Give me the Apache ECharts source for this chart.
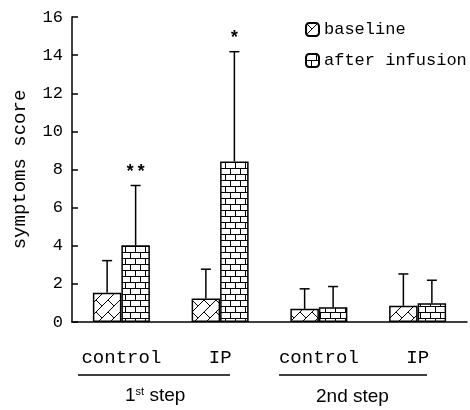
<!DOCTYPE html>
<html>
<head>
<meta charset="utf-8">
<script src="https://cdn.jsdelivr.net/npm/echarts@6/dist/echarts.min.js"></script>
<style>
  html, body { margin: 0; padding: 0; background: #fff; }
  #main { width: 470px; height: 410px; }
</style>
</head>
<body>
<div id="main"></div>
<script>
// data
var categories = ['control', 'IP', 'control', 'IP'];
var baselineMean = [1.53, 1.23, 0.69, 0.85];
var baselineSD = [1.69, 1.54, 1.05, 1.67];
var afterMean = [4.02, 8.42, 0.78, 0.98];
var afterSD = [3.14, 5.76, 1.08, 1.21];
var stars = ['**', '*', '', ''];
var yTicks = [0, 2, 4, 6, 8, 10, 12, 14, 16];

var MONO = '"Liberation Mono", "DejaVu Sans Mono", monospace';
var SANS = '"Liberation Sans", Arial, sans-serif';
var BAR_W = 28.5;

// hatch pattern for baseline
function makeHatch() {
    var c = document.createElement('canvas');
    c.width = 12; c.height = 12;
    var ctx = c.getContext('2d');
    ctx.fillStyle = '#fff';
    ctx.fillRect(0, 0, 12, 12);
    ctx.strokeStyle = '#000';
    ctx.lineWidth = 1;
    ctx.beginPath();
    ctx.moveTo(0, 12); ctx.lineTo(12, 0);
    ctx.moveTo(0, 0); ctx.lineTo(6, 6);
    ctx.stroke();
    return c;
}

// brick pattern for after infusion
function makeBrick() {
    var c = document.createElement('canvas');
    c.width = 10; c.height = 12;
    var ctx = c.getContext('2d');
    ctx.fillStyle = '#fff';
    ctx.fillRect(0, 0, 10, 12);
    ctx.strokeStyle = '#000';
    ctx.lineWidth = 1;
    ctx.beginPath();
    ctx.moveTo(0, 0.5); ctx.lineTo(10, 0.5);
    ctx.moveTo(0, 6.5); ctx.lineTo(10, 6.5);
    ctx.moveTo(0.5, 0); ctx.lineTo(0.5, 6);
    ctx.moveTo(5.5, 6); ctx.lineTo(5.5, 12);
    ctx.stroke();
    return c;
}

function errorData(mean, sd) {
    return mean.map(function (m, i) { return [i, m, sd[i]]; });
}

function errorRender(offset, withStars) {
    return function (params, api) {
        var i = api.value(0);
        var top = api.coord([i, api.value(1) + api.value(2)]);
        var base = api.coord([i, api.value(1)]);
        var x = top[0] + offset;
        var children = [
            { type: 'line', shape: { x1: x, y1: base[1], x2: x, y2: top[1] },
              style: { stroke: '#000', lineWidth: 1.5 } },
            { type: 'line', shape: { x1: x - 5, y1: top[1], x2: x + 5, y2: top[1] },
              style: { stroke: '#000', lineWidth: 1.5 } }
        ];
        if (withStars && stars[i]) {
            children.push({
                type: 'text',
                style: { x: x, y: top[1] - 13, text: stars[i], fill: '#000',
                         font: 'bold 18px ' + MONO, align: 'center', verticalAlign: 'middle' }
            });
        }
        return { type: 'group', children: children };
    };
}

var chart = echarts.init(document.getElementById('main'));

var option = {
    animation: false,
    backgroundColor: '#fff',
    grid: { left: 72, right: 3, top: 17, bottom: 88, containLabel: false, outerBoundsMode: 'none' },
    legend: {
        orient: 'vertical',
        left: 300,
        top: 16,
        itemWidth: 13,
        itemHeight: 13,
        itemGap: 14,
        data: ['baseline', 'after infusion'],
        textStyle: { fontFamily: MONO, fontSize: 17, color: '#000' }
    },
    xAxis: {
        type: 'category',
        data: categories,
        axisLine: { lineStyle: { color: '#000', width: 1.5 } },
        axisTick: { inside: true, length: 5, lineStyle: { color: '#000', width: 1.5 } },
        axisLabel: { interval: 0, margin: 26, fontFamily: MONO, fontSize: 19, color: '#000' }
    },
    yAxis: {
        type: 'value',
        min: yTicks[0],
        max: yTicks[yTicks.length - 1],
        interval: 2,
        name: 'symptoms score',
        nameLocation: 'middle',
        nameGap: 43,
        nameTextStyle: { fontFamily: MONO, fontSize: 19, color: '#000' },
        splitLine: { show: false },
        axisLine: { show: true, lineStyle: { color: '#000', width: 1.5 } },
        axisTick: { show: true, inside: true, length: 6, lineStyle: { color: '#000', width: 1.5 } },
        axisLabel: { margin: 9, fontFamily: MONO, fontSize: 17, color: '#000' }
    },
    series: [{
        name: 'baseline',
        type: 'bar',
        barWidth: BAR_W,
        barGap: '0%',
        data: baselineMean,
        itemStyle: { color: { image: makeHatch(), repeat: 'repeat' }, borderColor: '#000', borderWidth: 1.5 }
    }, {
        name: 'after infusion',
        type: 'bar',
        barWidth: BAR_W,
        barGap: '0%',
        data: afterMean,
        itemStyle: { color: { image: makeBrick(), repeat: 'repeat' }, borderColor: '#000', borderWidth: 1.5 }
    }, {
        type: 'custom',
        data: errorData(baselineMean, baselineSD),
        renderItem: errorRender(-BAR_W / 2, false),
        z: 5
    }, {
        type: 'custom',
        data: errorData(afterMean, afterSD),
        renderItem: errorRender(BAR_W / 2, true),
        z: 5
    }],
    graphic: [
        { type: 'line', shape: { x1: 78, y1: 375, x2: 230, y2: 375 }, style: { stroke: '#000', lineWidth: 1.5 } },
        { type: 'line', shape: { x1: 279, y1: 375, x2: 427, y2: 375 }, style: { stroke: '#000', lineWidth: 1.5 } },
        {
            type: 'text', left: 125, top: 386,
            style: {
                text: '{n|1}{s|st}{n| step}',
                rich: {
                    n: { fontFamily: SANS, fontSize: 19, fill: '#000', verticalAlign: 'bottom' },
                    s: { fontFamily: SANS, fontSize: 11, fill: '#000', verticalAlign: 'top', padding: [0, 0, 8, 0] }
                }
            }
        },
        {
            type: 'text', left: 316, top: 387,
            style: { text: '2nd step', fontFamily: SANS, fontSize: 19, fill: '#000' }
        }
    ]
};

chart.setOption(option);
</script>
</body>
</html>
